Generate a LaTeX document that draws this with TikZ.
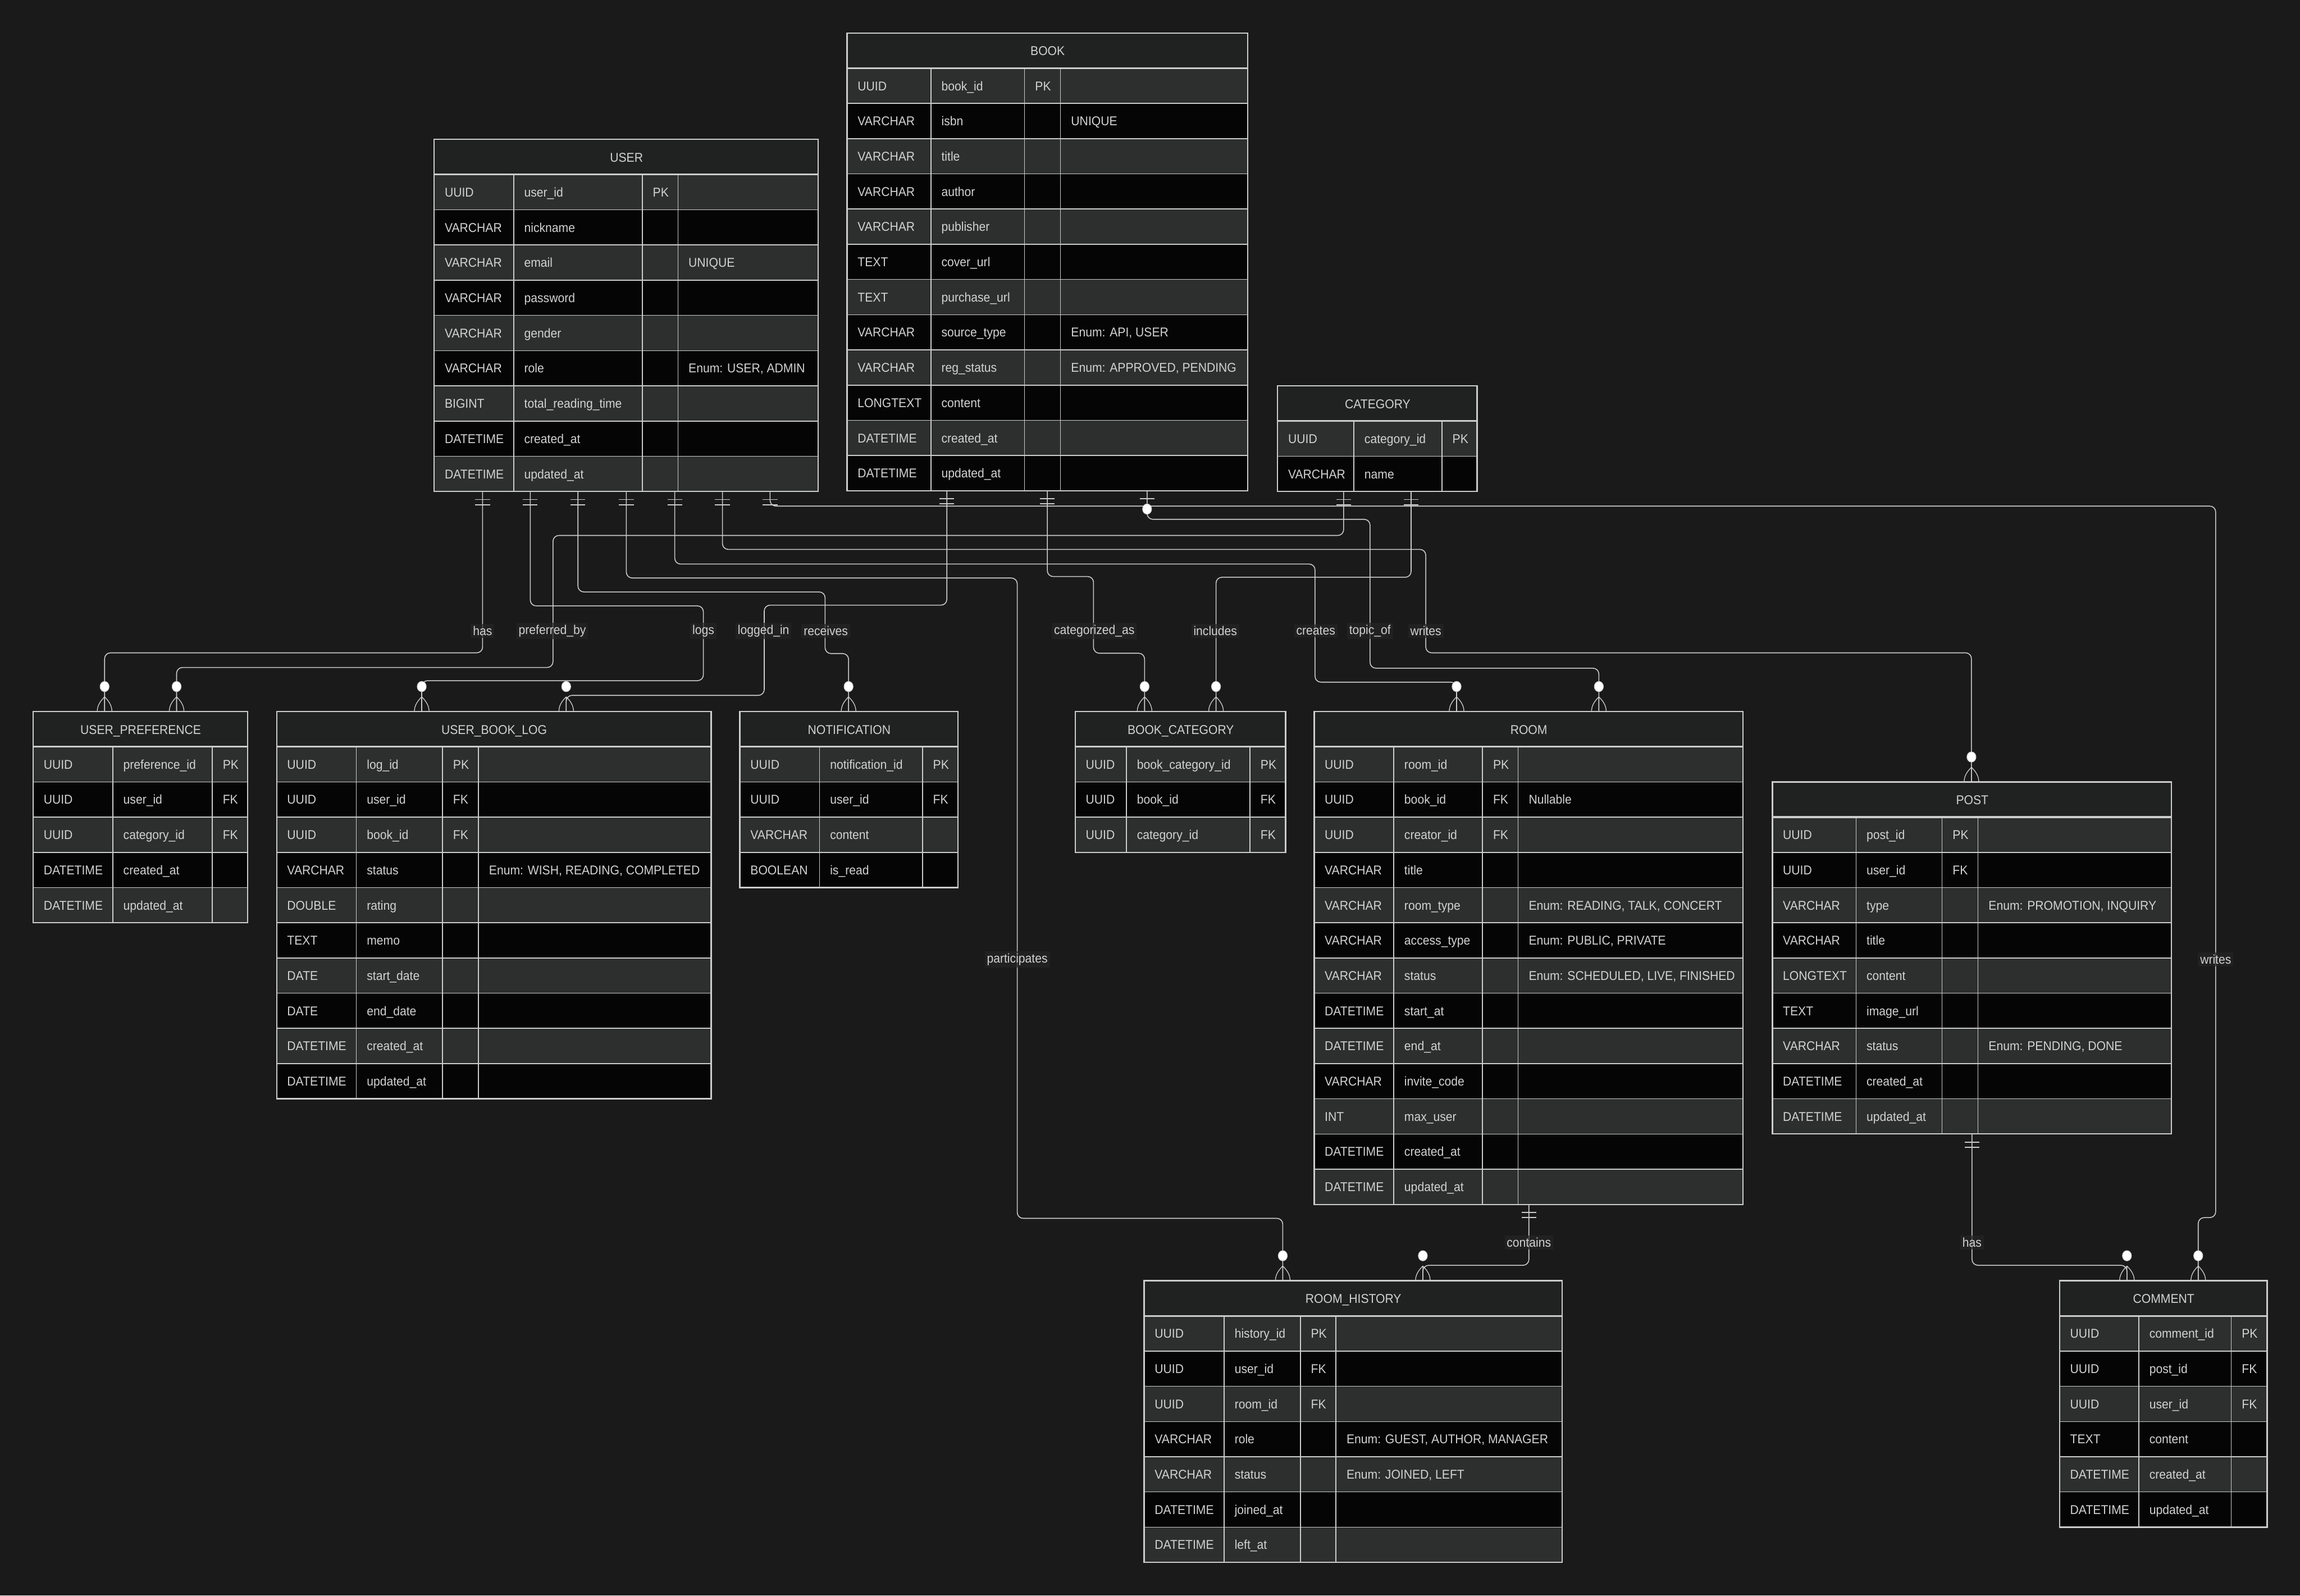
\documentclass[tikz,border=0pt]{standalone}
\usepackage{fontspec}
\setmainfont{Liberation Sans}[FakeStretch=0.93]
\usetikzlibrary{calc}

\definecolor{canvas}{HTML}{1A1A1A}
\definecolor{headfill}{HTML}{202221}
\definecolor{rowgray}{HTML}{2D2F2E}
\definecolor{rowblack}{HTML}{050505}
\definecolor{edge}{HTML}{CCCCCC}
\definecolor{ink}{HTML}{D2D2D2}
\definecolor{tagfill}{HTML}{242424}

\newcommand{\erfont}{\fontsize{8.7}{10}\selectfont}

% width/rows/col1/col2/col3
\def\ersplit#1/#2/#3/#4/#5\relax{\def\ew{#1}\def\en{#2}\def\eca{#3}\def\ecb{#4}\def\ecc{#5}}

% #1 name, #2 title, #3 top-left corner, #4 sizes, #5 rows type/field/key/note
\newcommand{\ertable}[5]{%
  \ersplit#4\relax
  \pgfmathsetmacro\eh{24*\en+24}%
  \begin{scope}[shift={#3}]
    \node[erhead, anchor=north west, minimum width=\ew pt] (#1-head) at (0,0) {#2};
    \foreach \ty/\fd/\ky/\nt [count=\i] in {#5}{
      \ifodd\i\relax\def\erfill{rowgray}\else\def\erfill{rowblack}\fi
      \fill[fill=\erfill] (0,24*\i) rectangle (\ew,24*\i+24);
      \node[ercell] (#1-\i-a) at (7,24*\i+12) {\ty};
      \node[ercell] (#1-\i-b) at (\eca+7,24*\i+12) {\fd};
      \node[ercell] (#1-\i-c) at (\ecb+7,24*\i+12) {\ky};
      \node[ercell] (#1-\i-d) at (\ecc+7,24*\i+12) {\nt};
    }
    \foreach \r in {1,...,\en} \draw[erline] (0,24*\r) -- (\ew,24*\r);
    \draw[erline, line width=1.2pt] (0,24) -- (\ew,24);
    \foreach \cx in {\eca,\ecb,\ecc} \draw[erline] (\cx,24) -- (\cx,\eh);
    \node[erframe, anchor=north west, minimum width=\ew pt, minimum height=\eh pt] (#1) at (0,0) {};
  \end{scope}}

\tikzset{
  erline/.style={draw=edge, line width=0.6pt},
  erframe/.style={draw=edge, line width=0.9pt, inner sep=0pt, outer sep=0pt},
  erhead/.style={fill=headfill, text=ink, inner sep=0pt, minimum height=24pt,
    text height=6.3pt, text depth=0pt, font=\erfont},
  ercell/.style={anchor=west, text=ink, inner sep=0pt, text height=6.3pt,
    text depth=0pt, font=\erfont},
  rel/.style={draw=edge, line width=0.6pt, rounded corners=4pt},
  rellabel/.style={fill=tagfill, fill opacity=0.7, text opacity=1, text=ink,
    font=\erfont, inner sep=1.5pt},
  % crow's foot with ring, drawn at the table edge
  zeromany/.pic={
    \draw[edge, line width=0.5pt] (0,-10) -- (0,0)
      (0,-10) .. controls (3,-7) and (5,-4) .. (5,0)
      (0,-10) .. controls (-3,-7) and (-5,-4) .. (-5,0);
    \filldraw[draw=edge, fill=white, line width=0.4pt] (0,-17) ellipse [x radius=3.1pt, y radius=3.5pt];
  },
  onlyone/.pic={
    \draw[edge, line width=0.7pt] (-5,5.5) -- (5,5.5) (-5,9) -- (5,9);
  },
  zeroone/.pic={
    \draw[edge, line width=0.7pt] (-5,5.5) -- (5,5.5);
    \filldraw[draw=edge, fill=white, line width=0.4pt] (0,12.5) ellipse [x radius=3.1pt, y radius=3.5pt];
  }
}

\begin{document}
\begin{tikzpicture}[x=1pt, y=-1pt]
  \useasboundingbox[fill=canvas] (0,0) rectangle (1568,1087.7);

  % =========================
  % entities
  % =========================
  \ertable{user}{USER}{(296,95)}{261.8/9/54.2/141.9/166.2}{
    UUID/user\_id/PK/, VARCHAR/nickname//, VARCHAR/email//UNIQUE,
    VARCHAR/password//, VARCHAR/gender//, VARCHAR/role//{Enum: USER, ADMIN},
    BIGINT/total\_reading\_time//, DATETIME/created\_at//, DATETIME/updated\_at//}

  \ertable{book}{BOOK}{(577.5,22.5)}{273/12/57.1/121/145.5}{
    UUID/book\_id/PK/, VARCHAR/isbn//UNIQUE, VARCHAR/title//, VARCHAR/author//,
    VARCHAR/publisher//, TEXT/cover\_url//, TEXT/purchase\_url//,
    VARCHAR/source\_type//{Enum: API, USER}, VARCHAR/reg\_status//{Enum: APPROVED, PENDING},
    LONGTEXT/content//, DATETIME/created\_at//, DATETIME/updated\_at//}

  \ertable{cat}{CATEGORY}{(871,263)}{136/2/52/112/136}{
    UUID/category\_id/PK/, VARCHAR/name//}

  \ertable{upref}{USER\_PREFERENCE}{(22.6,485)}{146.3/5/54.3/122.1/146.3}{
    UUID/preference\_id/PK/, UUID/user\_id/FK/, UUID/category\_id/FK/,
    DATETIME/created\_at//, DATETIME/updated\_at//}

  \ertable{ubl}{USER\_BOOK\_LOG}{(188.6,485)}{296.2/10/54.3/113.1/137.6}{
    UUID/log\_id/PK/, UUID/user\_id/FK/, UUID/book\_id/FK/,
    VARCHAR/status//{Enum: WISH, READING, COMPLETED}, DOUBLE/rating//, TEXT/memo//,
    DATE/start\_date//, DATE/end\_date//, DATETIME/created\_at//, DATETIME/updated\_at//}

  \ertable{notif}{NOTIFICATION}{(504.4,485)}{148.7/4/54.3/124.5/148.7}{
    UUID/notification\_id/PK/, UUID/user\_id/FK/, VARCHAR/content//, BOOLEAN/is\_read//}

  \ertable{bcat}{BOOK\_CATEGORY}{(733,485)}{143.5/3/34.9/119.2/143.5}{
    UUID/book\_category\_id/PK/, UUID/book\_id/FK/, UUID/category\_id/FK/}

  \ertable{room}{ROOM}{(895.9,485)}{292.3/13/54.3/114.8/139.1}{
    UUID/room\_id/PK/, UUID/book\_id/FK/Nullable, UUID/creator\_id/FK/,
    VARCHAR/title//, VARCHAR/room\_type//{Enum: READING, TALK, CONCERT},
    VARCHAR/access\_type//{Enum: PUBLIC, PRIVATE},
    VARCHAR/status//{Enum: SCHEDULED, LIVE, FINISHED}, DATETIME/start\_at//,
    DATETIME/end\_at//, VARCHAR/invite\_code//, INT/max\_user//,
    DATETIME/created\_at//, DATETIME/updated\_at//}

  \ertable{post}{POST}{(1208.3,533)}{272.1/9/57/115.7/140.2}{
    UUID/post\_id/PK/, UUID/user\_id/FK/, VARCHAR/type//{Enum: PROMOTION, INQUIRY},
    VARCHAR/title//, LONGTEXT/content//, TEXT/image\_url//,
    VARCHAR/status//{Enum: PENDING, DONE}, DATETIME/created\_at//, DATETIME/updated\_at//}

  \ertable{rhist}{ROOM\_HISTORY}{(780,873)}{284.9/7/54.5/106.5/130.8}{
    UUID/history\_id/PK/, UUID/user\_id/FK/, UUID/room\_id/FK/,
    VARCHAR/role//{Enum: GUEST, AUTHOR, MANAGER}, VARCHAR/status//{Enum: JOINED, LEFT},
    DATETIME/joined\_at//, DATETIME/left\_at//}

  \ertable{comment}{COMMENT}{(1404.1,873)}{141.5/6/54/117/141.5}{
    UUID/comment\_id/PK/, UUID/post\_id/FK/, UUID/user\_id/FK/,
    TEXT/content//, DATETIME/created\_at//, DATETIME/updated\_at//}

  % =========================
  % connector ports
  % =========================
  \foreach \n/\dx in {has/33, logs/65.5, recv/98, part/131, creates/164, wpost/196.5, wcomm/229}
    \coordinate (user-\n) at ([xshift=\dx pt]user.south west);
  \foreach \n/\dx in {logged/68, catas/136.5, topic/204.5}
    \coordinate (book-\n) at ([xshift=\dx pt]book.south west);
  \foreach \n/\dx in {pref/45, incl/91}
    \coordinate (cat-\n) at ([xshift=\dx pt]cat.south west);
  \coordinate (room-contains) at ([xshift=146.4pt]room.south west);
  \coordinate (post-has) at ([xshift=136.1pt]post.south west);

  \foreach \n/\dx in {has/48.7, pref/97.8}
    \coordinate (upref-\n) at ([xshift=\dx pt]upref.north west);
  \foreach \n/\dx in {logs/98.9, logged/197.4}
    \coordinate (ubl-\n) at ([xshift=\dx pt]ubl.north west);
  \coordinate (notif-recv) at ([xshift=74.1pt]notif.north west);
  \foreach \n/\dx in {catas/47.3, incl/96}
    \coordinate (bcat-\n) at ([xshift=\dx pt]bcat.north west);
  \foreach \n/\dx in {creates/97.1, topic/194.1}
    \coordinate (room-\n) at ([xshift=\dx pt]room.north west);
  \coordinate (post-wpost) at ([xshift=135.7pt]post.north west);
  \foreach \n/\dx in {part/94.5, contains/190}
    \coordinate (rhist-\n) at ([xshift=\dx pt]rhist.north west);
  \foreach \n/\dx in {has/45.9, wcomm/94.5}
    \coordinate (comment-\n) at ([xshift=\dx pt]comment.north west);

  % =========================
  % relationships
  % =========================
  \draw[rel] (user-has) -- ++(0,110) -| (upref-has);
  \draw[rel] (cat-pref) -- ++(0,30) -| (377,455) -| (upref-pref);
  \draw[rel] (user-logs) -- ++(0,78) -| (479.5,464) -| (ubl-logs);
  \draw[rel] (book-logged) -- ++(0,78) -| (521,474) -| (ubl-logged);
  \draw[rel] (user-recv) -- ++(0,68.5) -| (562.5,445.5) -| (notif-recv);
  \draw[rel] (user-part) -- ++(0,59) -| (693.5,830.5) -| (rhist-part);
  \draw[rel] (user-creates) -- ++(0,49.5) -| (896.5,465) -| (room-creates);
  \draw[rel] (user-wpost) -- ++(0,39.5) -| (972,445) -| (post-wpost);
  \draw[rel] (user-wcomm) -- ++(0,10) -| (1510.5,830) -| (comment-wcomm);
  \draw[rel] (book-catas) -- ++(0,58.5) -| (745.5,445.3) -| (bcat-catas);
  \draw[rel] (cat-incl) -- ++(0,58.5) -| (bcat-incl);
  \draw[rel] (book-topic) -- ++(0,19.5) -| (934,455.5) -| (room-topic);
  \draw[rel] (room-contains) -- ++(0,41.5) -| (rhist-contains);
  \draw[rel] (post-has) -- ++(0,89.5) -| (comment-has);

  % cardinality marks
  \foreach \p in {user-has, user-logs, user-recv, user-part, user-creates, user-wpost,
                  user-wcomm, book-logged, book-catas, cat-pref, cat-incl,
                  room-contains, post-has}
    \pic at (\p) {onlyone};
  \pic at (book-topic) {zeroone};
  \foreach \p in {upref-has, upref-pref, ubl-logs, ubl-logged, notif-recv, bcat-catas,
                  bcat-incl, room-creates, room-topic, post-wpost, rhist-part,
                  rhist-contains, comment-has, comment-wcomm}
    \pic at (\p) {zeromany};

  % labels
  \node[rellabel] (l-has)    at (329,430)   {has};
  \node[rellabel] (l-pref)   at (376.5,430) {preferred\_by};
  \node[rellabel] (l-logs)   at (479.5,430) {logs};
  \node[rellabel] (l-logged) at (520.5,430) {logged\_in};
  \node[rellabel] (l-recv)   at (563,430)   {receives};
  \node[rellabel] (l-catas)  at (746,430)   {categorized\_as};
  \node[rellabel] (l-incl)   at (828.5,430) {includes};
  \node[rellabel] (l-create) at (897,430)   {creates};
  \node[rellabel] (l-topic)  at (934,430)   {topic\_of};
  \node[rellabel] (l-wpost)  at (972,430)   {writes};
  \node[rellabel] (l-part)   at (693.5,654) {participates};
  \node[rellabel] (l-wcomm)  at (1510.5,654) {writes};
  \node[rellabel] (l-contain) at (1042.3,847) {contains};
  \node[rellabel] (l-phas)   at (1344.4,847) {has};

\end{tikzpicture}
\end{document}
